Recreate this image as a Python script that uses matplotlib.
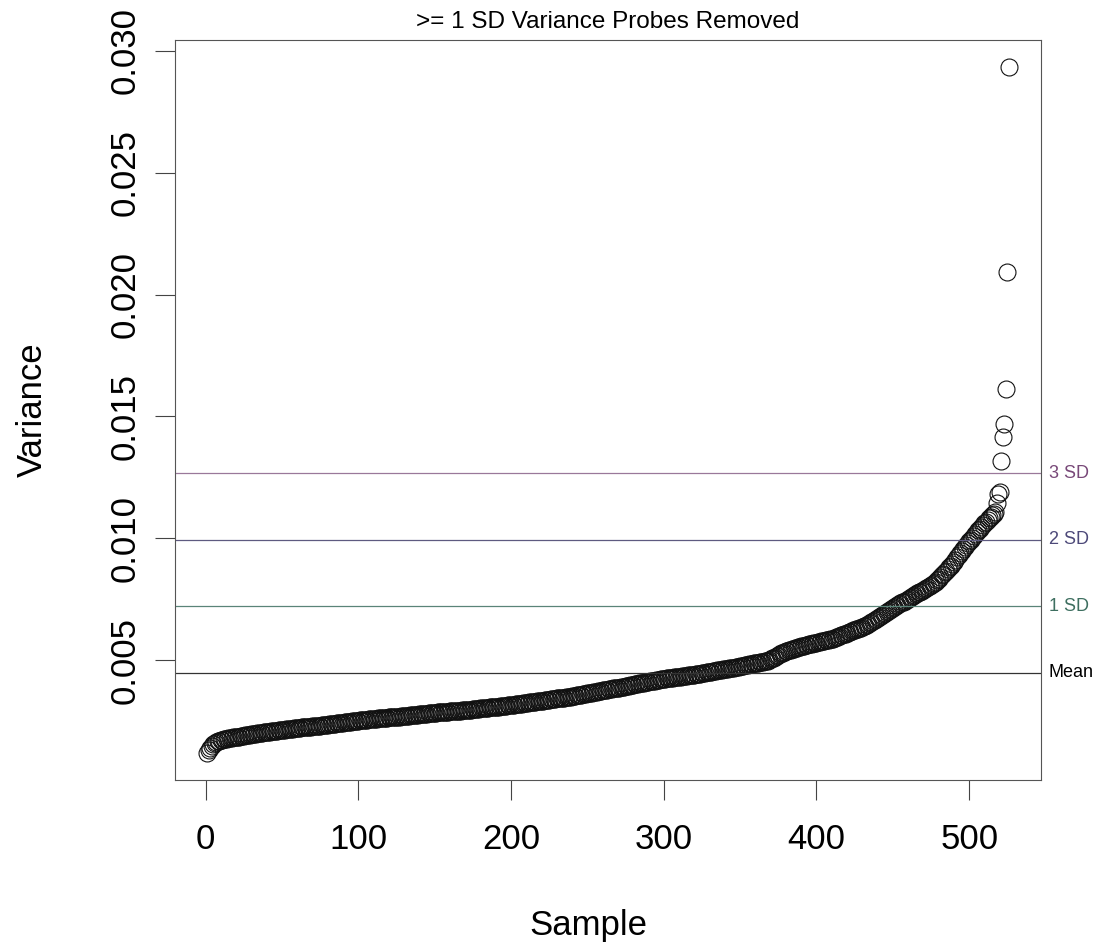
import numpy as np
import matplotlib
matplotlib.use("Agg")
import matplotlib.pyplot as plt

# Sorted per-sample variance, in units of 1e-5
variance_1e5 = [
    121, 132, 140, 148, 155, 160, 164, 167, 170, 172,
    174, 175, 177, 178, 179, 180, 182, 183, 184, 185,
    186, 187, 189, 190, 191, 192, 193, 194, 195, 196,
    197, 198, 199, 200, 201, 202, 203, 204, 204, 205,
    206, 207, 208, 209, 209, 210, 211, 212, 213, 213,
    214, 215, 216, 217, 218, 218, 219, 220, 221, 221,
    222, 223, 224, 224, 225, 226, 227, 227, 228, 229,
    229, 230, 231, 232, 232, 233, 234, 235, 235, 236,
    237, 238, 238, 239, 240, 241, 242, 243, 243, 244,
    245, 246, 247, 247, 248, 249, 250, 251, 252, 252,
    253, 254, 255, 255, 256, 256, 257, 258, 258, 259,
    259, 260, 261, 261, 262, 262, 263, 264, 264, 265,
    265, 266, 266, 267, 268, 268, 269, 270, 270, 271,
    272, 272, 273, 274, 275, 275, 276, 277, 277, 278,
    279, 279, 280, 281, 281, 282, 283, 283, 284, 285,
    285, 286, 286, 287, 287, 288, 288, 289, 289, 290,
    290, 291, 291, 292, 292, 293, 293, 294, 294, 295,
    295, 296, 296, 297, 298, 299, 299, 300, 301, 302,
    302, 303, 304, 304, 305, 306, 307, 307, 308, 309,
    310, 310, 311, 312, 313, 313, 314, 315, 316, 317,
    318, 318, 319, 320, 321, 322, 322, 323, 324, 325,
    326, 327, 327, 328, 329, 330, 331, 332, 333, 334,
    334, 335, 336, 337, 338, 339, 340, 341, 342, 343,
    344, 344, 345, 346, 347, 348, 349, 350, 351, 352,
    354, 355, 356, 357, 358, 359, 360, 362, 363, 364,
    365, 366, 367, 368, 370, 371, 372, 373, 374, 376,
    376, 378, 379, 380, 381, 382, 384, 385, 386, 387,
    388, 390, 391, 392, 393, 394, 396, 397, 399, 400,
    401, 402, 403, 405, 406, 407, 408, 409, 410, 411,
    413, 414, 415, 416, 417, 418, 419, 421, 422, 423,
    424, 425, 426, 427, 428, 429, 430, 430, 431, 432,
    433, 434, 435, 436, 437, 438, 439, 440, 440, 441,
    442, 443, 444, 445, 446, 447, 448, 450, 451, 452,
    453, 454, 455, 456, 458, 459, 460, 461, 462, 463,
    464, 465, 467, 468, 469, 470, 471, 473, 474, 475,
    476, 478, 479, 480, 481, 483, 484, 485, 487, 488,
    489, 490, 492, 493, 494, 495, 497, 498, 501, 504,
    508, 511, 514, 518, 521, 524, 528, 531, 534, 536,
    538, 540, 542, 544, 547, 549, 551, 553, 555, 557,
    559, 560, 562, 563, 565, 566, 568, 569, 571, 572,
    574, 575, 577, 578, 580, 581, 583, 584, 586, 588,
    589, 592, 594, 597, 599, 602, 604, 607, 609, 612,
    614, 617, 619, 622, 624, 627, 629, 632, 634, 637,
    639, 642, 644, 648, 652, 656, 660, 664, 668, 673,
    676, 680, 685, 689, 693, 697, 701, 705, 709, 713,
    717, 721, 725, 729, 733, 737, 740, 744, 748, 752,
    755, 759, 763, 767, 770, 774, 778, 781, 785, 789,
    793, 796, 800, 804, 808, 811, 815, 822, 828, 835,
    841, 848, 854, 861, 867, 874, 881, 887, 896, 904,
    913, 922, 930, 939, 948, 956, 965, 973, 980, 988,
    995, 1003, 1010, 1018, 1025, 1033, 1040, 1047, 1054, 1061,
    1068, 1075, 1082, 1088, 1094, 1100, 1110, 1143, 1180, 1192,
    1318, 1416, 1471, 1614, 2091, 2932,
]

ref_labels = ["Mean", "1 SD", "2 SD", "3 SD"]
ref_values = [0.00448, 0.00722, 0.00995, 0.01268]
ref_line_colors = ["#333333", "#5a8478", "#5e5a80", "#9a789a"]
ref_text_colors = ["#000000", "#3e6f60", "#4d4979", "#784878"]

x_ticks = [0, 100, 200, 300, 400, 500]
y_ticks = [0.005, 0.010, 0.015, 0.020, 0.025, 0.030]
y_ticklabels = ["0.005", "0.010", "0.015", "0.020", "0.025", "0.030"]

title = ">= 1 SD Variance Probes Removed"
x_label = "Sample"
y_label = "Variance"

plt.rcParams["font.family"] = ["Liberation Sans", "DejaVu Sans"]

variance = np.array(variance_1e5) * 1e-5
samples = np.arange(1, len(variance) + 1)

W, H = 1099, 952
fig = plt.figure(figsize=(W / 100, H / 100), dpi=100)
ax = fig.add_axes([175 / W, 1 - 780 / H, (1041 - 175) / W, (780 - 40) / H])

ax.plot(samples, variance, linestyle="none", marker="o", ms=12.2,
        mfc="none", mec="#111111", mew=0.8)

for val, col in zip(ref_values, ref_line_colors):
    ax.axhline(val, color=col, lw=0.9)

n = len(variance)
pad_x = 0.04 * (n - 1)
ax.set_xlim(1 - pad_x, n + pad_x)
rng = variance.max() - variance.min()
ax.set_ylim(variance.min() - 0.04 * rng, variance.max() + 0.04 * rng)

ax.set_xticks(x_ticks)
ax.set_xticklabels([str(t) for t in x_ticks])
ax.set_yticks(y_ticks)
ax.set_yticklabels(y_ticklabels, rotation=90, va="center")
ax.tick_params(axis="both", direction="out", length=14.4, width=0.8,
               color="#444444", labelsize=25)
ax.tick_params(axis="x", pad=16.3)
ax.tick_params(axis="y", pad=9.6)

for sp in ax.spines.values():
    sp.set_color("#555555")
    sp.set_linewidth(0.8)

for lab, val, col in zip(ref_labels, ref_values, ref_text_colors):
    ax.text(1.009, val, lab, transform=ax.get_yaxis_transform(),
            color=col, fontsize=13, va="center", ha="left", clip_on=False)

fig.text(608 / W, 1 - 22 / H, title, ha="center", va="center", fontsize=17.5)
fig.text(588 / W, 1 - 925 / H, x_label, ha="center", va="center", fontsize=25)
fig.text(32 / W, 1 - 410 / H, y_label, ha="center", va="center", fontsize=25,
         rotation=90)

fig.savefig("out.png", dpi=100, facecolor="white")
